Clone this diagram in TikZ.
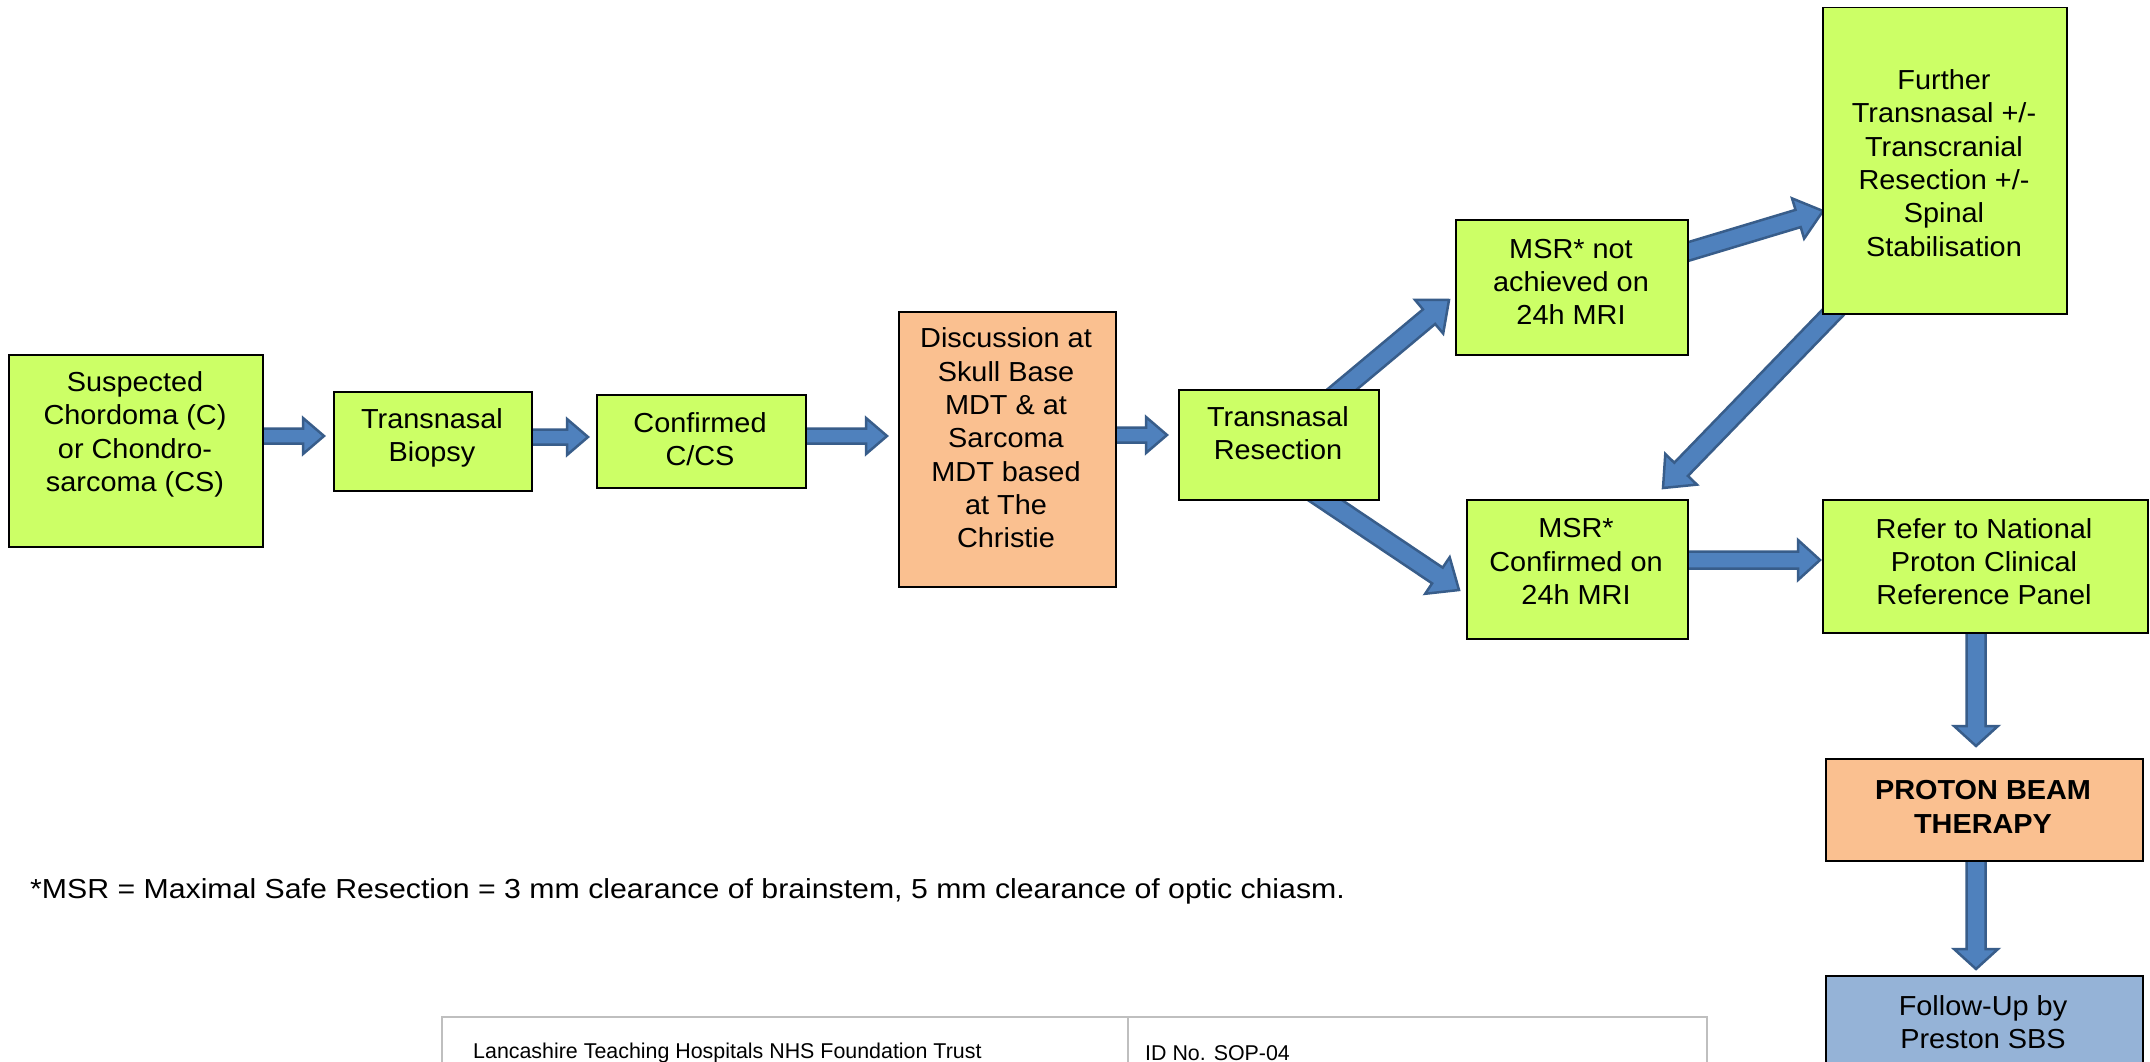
\documentclass[tikz,border=0pt]{standalone}
\usepackage{fontspec}
\setmainfont{Liberation Sans}
\newfontfamily\boxfont[FakeStretch=1.05]{Liberation Sans}
\newfontfamily\notefont[FakeStretch=1.1]{Liberation Sans}
\usetikzlibrary{calc}
\definecolor{boxgreen}{RGB}{204,255,102}
\definecolor{boxorange}{RGB}{250,192,144}
\definecolor{boxblue}{RGB}{149,179,215}
\definecolor{arrowfill}{RGB}{79,129,189}
\definecolor{arrowdraw}{RGB}{56,93,138}
\definecolor{tablegray}{RGB}{191,191,191}
\tikzset{
  box/.style={draw=black, line width=1.5pt, inner sep=0pt, anchor=north west},
  gbox/.style={box, fill=boxgreen},
  obox/.style={box, fill=boxorange},
  bbox/.style={box, fill=boxblue},
  txt/.style={align=center, inner sep=0pt, font=\boxfont\fontsize{27.5}{33.3}\selectfont},
  btxt/.style={txt, font=\boxfont\bfseries\fontsize{27.5}{34}\selectfont},
  barrow/.style={fill=arrowfill, draw=arrowdraw, line width=2.5pt, line join=miter},
  tline/.style={draw=tablegray, line width=2pt}
}
\newcommand\blockarrow[5]{%
  \draw[barrow] let \p1=($(#2)-(#1)$), \n1={atan2(\y1,\x1)}, \n2={veclen(\x1,\y1)-#5} in
    ($(#1)+({\n1+90}:#3)$) -- ($(#1)+(\n1:\n2)+({\n1+90}:#3)$) --
    ($(#1)+(\n1:\n2)+({\n1+90}:#4)$) -- (#2) --
    ($(#1)+(\n1:\n2)+({\n1-90}:#4)$) -- ($(#1)+(\n1:\n2)+({\n1-90}:#3)$) --
    ($(#1)+({\n1-90}:#3)$) -- cycle;}
\begin{document}
\begin{tikzpicture}[x=1pt,y=1pt]
\clip (0,0) rectangle (2150,-1062);
\fill[white] (0,0) rectangle (2150,-1062);

% arrow end points
\coordinate (a1) at (262,-436);   \coordinate (b1) at (324,-436);
\coordinate (a2) at (531,-437);   \coordinate (b2) at (588,-437);
\coordinate (a3) at (805,-436);   \coordinate (b3) at (887,-436);
\coordinate (a4) at (1115,-435);  \coordinate (b4) at (1167,-435);
\coordinate (a5) at (1333,-397);  \coordinate (b5) at (1449,-300);
\coordinate (a6) at (1310,-490);  \coordinate (b6) at (1459,-590);
\coordinate (a7) at (1680,-254);  \coordinate (b7) at (1823,-211);
\coordinate (a8) at (1845,-300);  \coordinate (b8) at (1663,-488);
\coordinate (a9) at (1687,-560);  \coordinate (b9) at (1820,-560);
\coordinate (a10) at (1976,-632); \coordinate (b10) at (1976,-746);
\coordinate (a11) at (1976,-860); \coordinate (b11) at (1976,-969);

\blockarrow{a1}{b1}{7.5}{18}{21}
\blockarrow{a2}{b2}{7.5}{18}{21}
\blockarrow{a3}{b3}{7.5}{18}{21}
\blockarrow{a4}{b4}{7.5}{18}{21}
\blockarrow{a5}{b5}{9.5}{22}{26}
\blockarrow{a6}{b6}{9.5}{22}{26}
\blockarrow{a7}{b7}{9}{21}{26}
\blockarrow{a8}{b8}{9.5}{22}{26}
\blockarrow{a9}{b9}{8.5}{20}{22}
\blockarrow{a10}{b10}{9.5}{22}{20}
\blockarrow{a11}{b11}{9.5}{22}{20}

% boxes
\node[gbox, minimum width=254pt, minimum height=192pt] (A) at (8,-354) {};
\node[gbox, minimum width=198pt, minimum height=99pt] (B) at (333,-391) {};
\node[gbox, minimum width=209pt, minimum height=93pt] (C) at (596,-394) {};
\node[obox, minimum width=217pt, minimum height=275pt] (D) at (898,-311) {};
\node[gbox, minimum width=200pt, minimum height=110pt] (E) at (1178,-389) {};
\node[gbox, minimum width=232pt, minimum height=135pt] (F) at (1455,-219) {};
\node[gbox, minimum width=221pt, minimum height=139pt] (G) at (1466,-499) {};
\node[gbox, minimum width=244pt, minimum height=306pt] (H) at (1822,-7) {};
\node[gbox, minimum width=325pt, minimum height=133pt] (I) at (1822,-499) {};
\node[obox, minimum width=317pt, minimum height=102pt] (J) at (1825,-758) {};
\node[bbox, minimum width=317pt, minimum height=120pt] (K) at (1825,-975) {};

% texts
\node[txt] (At) at (135,-434.5) {Suspected\\Chordoma (C)\\or Chondro-\\sarcoma (CS)};
\node[txt] (Bt) at (432,-438) {Transnasal\\Biopsy};
\node[txt] (Ct) at (700,-439) {Confirmed\\C/CS};
\node[txt] (Dt) at (1006,-438) {Discussion at\\Skull Base\\MDT \& at\\Sarcoma\\MDT based\\at The\\Christie};
\node[txt] (Et) at (1278,-433) {Transnasal\\Resection};
\node[txt] (Ft) at (1571,-282) {MSR* not\\achieved on\\24h MRI};
\node[txt] (Gt) at (1576,-561.5) {MSR*\\Confirmed on\\24h MRI};
\node[txt] (Ht) at (1944,-163) {Further\\Transnasal +/-\\Transcranial\\Resection +/-\\Spinal\\Stabilisation};
\node[txt] (It) at (1984,-561.5) {Refer to National\\Proton Clinical\\Reference Panel};
\node[btxt] (Jt) at (1983,-807) {PROTON BEAM\\THERAPY};
\node[txt] (Kt) at (1983,-1022) {Follow-Up by\\Preston SBS};

% footnote
\node[anchor=west, inner sep=0pt, font=\notefont\fontsize{27.5}{30}\selectfont] (note) at (30,-891)
  {*MSR = Maximal Safe Resection = 3 mm clearance of brainstem, 5 mm clearance of optic chiasm.};

% footer table
\coordinate (tl) at (442,-1017); \coordinate (tr) at (1707,-1017); \coordinate (tm) at (1128,-1017);
\draw[tline] (442,-1080) -- (tl) -- (tr) -- (1707,-1080);
\draw[tline] (tm) -- (1128,-1080);
\node[anchor=west, inner sep=0pt, font=\fontsize{21.4}{24}\selectfont] (trust) at (473,-1053) {Lancashire Teaching Hospitals NHS Foundation Trust};
\node[anchor=west, inner sep=0pt, font=\fontsize{21.4}{24}\selectfont] (idno) at (1145,-1053) {ID No. SOP-04};
\end{tikzpicture}
\end{document}
